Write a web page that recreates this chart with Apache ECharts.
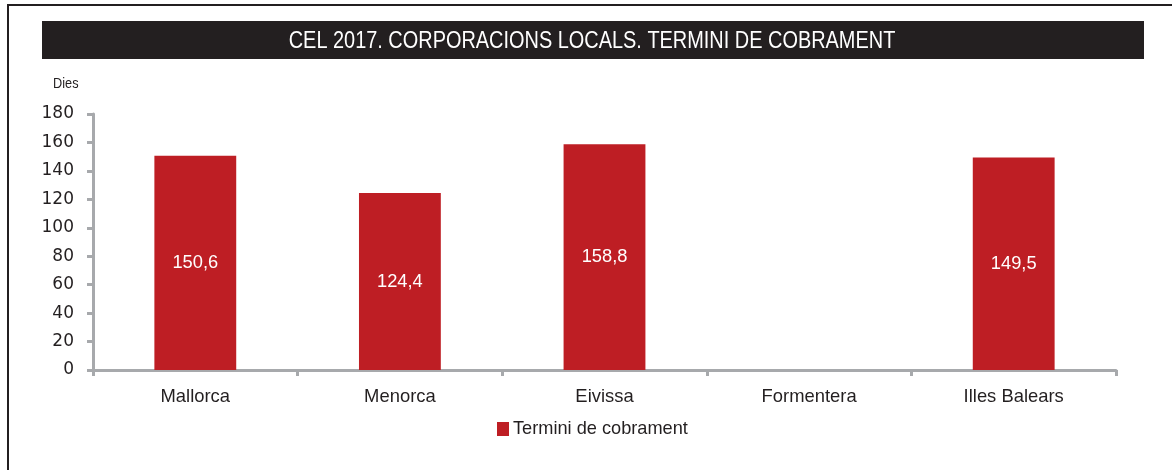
<!DOCTYPE html>
<html><head><meta charset="utf-8">
<script src="https://cdn.jsdelivr.net/npm/echarts@6/dist/echarts.min.js"></script>
<style>html,body{margin:0;padding:0;background:#fff}#c{width:1172px;height:470px}</style>
</head><body><div id="c"></div>
<script>
const categories = ['Mallorca', 'Menorca', 'Eivissa', 'Formentera', 'Illes Balears'];
const values = [150.6, 124.4, 158.8, null, 149.5];
const seriesName = 'Termini de cobrament';
const titleText = 'CEL 2017. CORPORACIONS LOCALS. TERMINI DE COBRAMENT';
const narrow = "'Liberation Sans Narrow', 'Arial Narrow', 'Liberation Sans', sans-serif";

const chart = echarts.init(document.getElementById('c'));
chart.setOption({
  animation: false,
  backgroundColor: '#fff',
  graphic: [
    { type: 'rect', shape: { x: 8, y: 4, width: 1164, height: 2 }, style: { fill: '#231F20' }, z: 0 },
    { type: 'rect', shape: { x: 7, y: 4, width: 2, height: 466 }, style: { fill: '#231F20' }, z: 0 },
    { type: 'rect', shape: { x: 42, y: 21, width: 1102, height: 38 }, style: { fill: '#231F20' }, z: 0 },
    { type: 'text', x: 592, y: 41, scaleX: 0.83, z: 1,
      style: { text: titleText, fill: '#fff', align: 'center', verticalAlign: 'middle',
               font: "normal 24px 'Liberation Sans', sans-serif" } },
    { type: 'text', x: 53, y: 84, scaleX: 0.85,
      style: { text: 'Dies', fill: '#231F20', verticalAlign: 'middle', font: "15px 'Liberation Sans', sans-serif" } }
  ],
  legend: {
    data: [seriesName], top: 415, left: 492, itemWidth: 12, itemHeight: 14, itemGap: 5,
    icon: 'rect',
    textStyle: { color: '#231F20', fontFamily: narrow, fontSize: 18.2, padding: [0, 0, 0, -1] }
  },
  grid: { left: 93, right: 56, top: 114, bottom: 100, containLabel: false },
  xAxis: {
    type: 'category', data: categories,
    axisLine: { lineStyle: { color: '#A7A9AC', width: 3 } },
    axisTick: { show: true, length: 6, lineStyle: { color: '#A7A9AC', width: 3 } },
    axisLabel: { color: '#231F20', fontFamily: narrow, fontSize: 18.4, margin: 18 }
  },
  yAxis: {
    type: 'value', min: 0, max: 180, interval: 20,
    splitLine: { show: false },
    axisLine: { show: true, lineStyle: { color: '#A7A9AC', width: 3 } },
    axisTick: { show: true, length: 6, lineStyle: { color: '#A7A9AC', width: 3 } },
    axisLabel: { color: '#231F20', fontFamily: "'DejaVu Sans', sans-serif", fontSize: 17, margin: 19 }
  },
  series: [{
    name: seriesName, type: 'bar', data: values, barWidth: '40%',
    itemStyle: { color: '#BE1E24' },
    label: {
      show: true, position: 'inside', color: '#fff', fontFamily: narrow, fontSize: 18.3,
      formatter: p => p.value == null ? '' : String(p.value).replace('.', ',')
    }
  }]
});
</script></body></html>
